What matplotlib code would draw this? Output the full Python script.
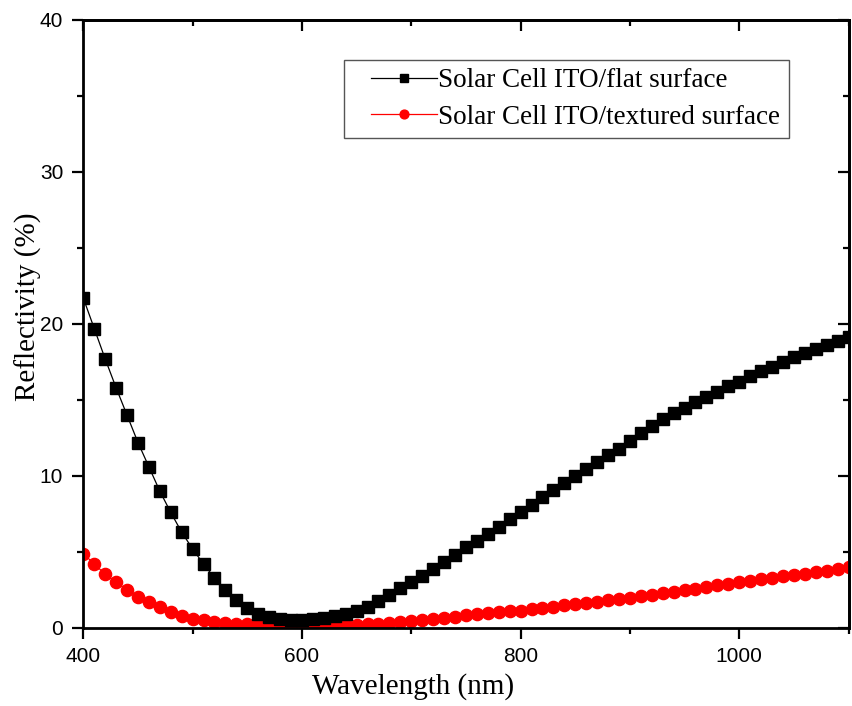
import matplotlib
matplotlib.use("Agg")
import matplotlib.pyplot as plt
from matplotlib.ticker import MultipleLocator
from matplotlib.lines import Line2D
from matplotlib.legend_handler import HandlerLine2D

wavelength = list(range(400, 1101, 10))

flat = [21.7, 19.7, 17.7, 15.8, 14.0, 12.2, 10.6, 9.0, 7.6, 6.3,
        5.2, 4.2, 3.3, 2.5, 1.85, 1.33, 0.95, 0.72, 0.6, 0.55,
        0.55, 0.58, 0.65, 0.78, 0.95, 1.15, 1.4, 1.75, 2.2, 2.65,
        3.05, 3.45, 3.9, 4.35, 4.8, 5.3, 5.75, 6.2, 6.65, 7.15,
        7.6, 8.1, 8.65, 9.1, 9.55, 10.0, 10.45, 10.9, 11.35, 11.8,
        12.3, 12.8, 13.3, 13.75, 14.15, 14.5, 14.85, 15.2, 15.55, 15.9,
        16.2, 16.55, 16.9, 17.2, 17.5, 17.8, 18.1, 18.35, 18.6, 18.85,
        19.15]

textured = [4.9, 4.2, 3.55, 3.0, 2.5, 2.05, 1.7, 1.35, 1.05, 0.82,
            0.62, 0.5, 0.4, 0.33, 0.28, 0.24, 0.21, 0.19, 0.18, 0.17,
            0.17, 0.17, 0.18, 0.19, 0.2, 0.22, 0.25, 0.29, 0.34, 0.39,
            0.45, 0.52, 0.59, 0.67, 0.75, 0.83, 0.9, 0.97, 1.03, 1.09,
            1.15, 1.23, 1.31, 1.4, 1.48, 1.56, 1.65, 1.73, 1.82, 1.9,
            1.99, 2.09, 2.19, 2.29, 2.39, 2.48, 2.57, 2.68, 2.8, 2.91,
            3.02, 3.11, 3.2, 3.3, 3.39, 3.48, 3.58, 3.68, 3.78, 3.88,
            3.98]

labels = ["Solar Cell ITO/flat surface", "Solar Cell ITO/textured surface"]
xlabel = "Wavelength (nm)"
ylabel = "Reflectivity (%)"

fig = plt.figure(figsize=(8.52, 7.06), dpi=100)
ax = fig.add_axes([0.0978, 0.1105, 0.8981, 0.8612])

ax.plot(wavelength, textured, color="red", lw=0.9, marker="o", ms=8.8,
        mec="red", mfc="red", label=labels[1], zorder=2, clip_on=True)
ax.plot(wavelength, flat, color="black", lw=0.9, marker="s", ms=8.8,
        mec="black", mfc="black", label=labels[0], zorder=3, clip_on=True)

ax.set_xlim(400, 1100)
ax.set_ylim(0, 40)
ax.xaxis.set_major_locator(MultipleLocator(200))
ax.xaxis.set_minor_locator(MultipleLocator(100))
ax.yaxis.set_major_locator(MultipleLocator(10))
ax.yaxis.set_minor_locator(MultipleLocator(5))

for s in ax.spines.values():
    s.set_linewidth(2.0)

ax.tick_params(which="both", direction="out", width=1.6, top=False, right=False)
ax.tick_params(which="major", length=8)
ax.tick_params(which="minor", length=4.5)
ax.tick_params(axis="x", which="major", pad=5.5)
ax.tick_params(axis="y", which="major", pad=6.5)

# inward ticks on right and top
axr = ax.secondary_yaxis("right")
axr.yaxis.set_major_locator(MultipleLocator(10))
axr.yaxis.set_minor_locator(MultipleLocator(5))
axr.tick_params(which="both", direction="in", width=1.6, labelright=False)
axr.tick_params(which="major", length=8)
axr.tick_params(which="minor", length=4.5)
axr.spines["right"].set_linewidth(2.0)
axt = ax.secondary_xaxis("top")
axt.xaxis.set_major_locator(MultipleLocator(200))
axt.xaxis.set_minor_locator(MultipleLocator(100))
axt.tick_params(which="both", direction="in", width=1.6, labeltop=False)
axt.tick_params(which="major", length=8)
axt.tick_params(which="minor", length=4.5)
axt.spines["top"].set_linewidth(2.0)

for lab in ax.get_xticklabels() + ax.get_yticklabels():
    lab.set_fontfamily("Liberation Sans")
    lab.set_fontsize(15)

ax.set_xlabel(xlabel, fontfamily="Liberation Serif", fontsize=21)
ax.set_ylabel(ylabel, fontfamily="Liberation Serif", fontsize=21)
ax.xaxis.set_label_coords(0.431, -0.0735)
ax.yaxis.set_label_coords(-0.054, 0.528)

handles, labs = ax.get_legend_handles_labels()
leg = ax.legend(handles[::-1], labs[::-1], loc="upper right",
                bbox_to_anchor=(0.9216, 0.934), borderaxespad=0,
                prop={"family": "Liberation Serif", "size": 19.5},
                frameon=True, fancybox=False, shadow=False,
                edgecolor="#555555", framealpha=1,
                handlelength=3.13, handletextpad=0.05, markerscale=0.72,
                labelspacing=0.42, borderpad=0.3,
                handler_map={Line2D: HandlerLine2D(xpad=0.70)})
leg.get_frame().set_linewidth(1.0)

fig.savefig("out.png", dpi=100)
